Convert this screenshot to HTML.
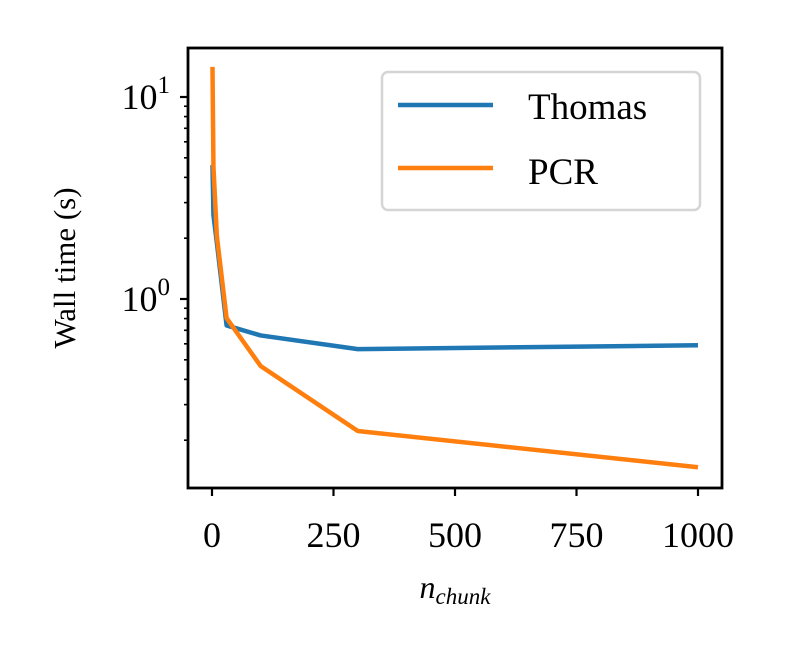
<!DOCTYPE html>
<html><head><meta charset="utf-8"><style>
body{margin:0;background:#fff}
svg text{font-family:"Liberation Serif",serif;fill:#000}
</style></head><body>
<svg id="chart" width="788" height="652" xmlns="http://www.w3.org/2000/svg">
<g id="plot"></g>
<rect x="188" y="48" width="534" height="440" fill="none" stroke="#000" stroke-width="2.8"/>
<g>
<rect x="382" y="72" width="318" height="138" rx="6" fill="#fff" fill-opacity="0.8" stroke="#d5d5d5" stroke-width="2.5"/>
<line x1="398" y1="105" x2="493" y2="105" stroke="#1f77b4" stroke-width="4.5"/>
<text x="528" y="119" font-size="37">Thomas</text>
<line x1="398" y1="168" x2="493" y2="168" stroke="#ff7f0e" stroke-width="4.5"/>
<text x="528" y="184" font-size="37">PCR</text>
</g>
<text transform="translate(75,268) rotate(-90)" text-anchor="middle" font-size="31">Wall time (s)</text>
<text x="455" y="598" text-anchor="middle" font-size="32" font-style="italic">n<tspan font-size="23" dy="6">chunk</tspan></text>
</svg>
<script>
const xValues=[1,3,10,30,100,300,1000];
const thomasValues=[4.6,2.6,1.9,0.74,0.66,0.565,0.59];
const pcrValues=[14.1,4.5,2.05,0.805,0.466,0.222,0.147];
const xTicks=[0,250,500,750,1000];
const yMajor=[1,10];
const NS="http://www.w3.org/2000/svg";
const X=v=>212+v*(698-212)/1000;
const Y=v=>299-Math.log10(v)*202;
const g=document.getElementById('plot');
function mk(t,a){const e=document.createElementNS(NS,t);for(const k in a)e.setAttribute(k,a[k]);g.appendChild(e);return e;}
xTicks.forEach(t=>{
 const l=mk('line',{x1:X(t),x2:X(t),y1:488,y2:496,stroke:'#000','stroke-width':2.2});
 
 
 const tx=mk('text',{x:X(t),y:547,'text-anchor':'middle','font-size':36});
 tx.textContent=t;
 
 
});
for(let d=-1;d<=1;d++){for(let m=1;m<10;m++){const v=m*Math.pow(10,d);const y=Y(v);if(y<48||y>488)continue;
 const l=mk('line',{x1:m==1?180:184,x2:188,y1:y,y2:y,stroke:'#000','stroke-width':m==1?2.2:1.6});
 
 }}
yMajor.forEach(v=>{
 const t=mk('text',{x:170,y:Y(v)+12,'text-anchor':'end','font-size':36});
 t.innerHTML='10<tspan font-size="25" dy="-16">'+Math.round(Math.log10(v))+'</tspan>';
 
 
});
function series(vals,color,name){
 const p=mk('polyline',{points:xValues.map((x,i)=>X(x)+','+Y(vals[i])).join(' '),fill:'none',stroke:color,'stroke-width':4.5,'stroke-linejoin':'round'});
 
 
}
series(thomasValues,'#1f77b4','thomas-line');
series(pcrValues,'#ff7f0e','pcr-line');
</script>
</body></html>
